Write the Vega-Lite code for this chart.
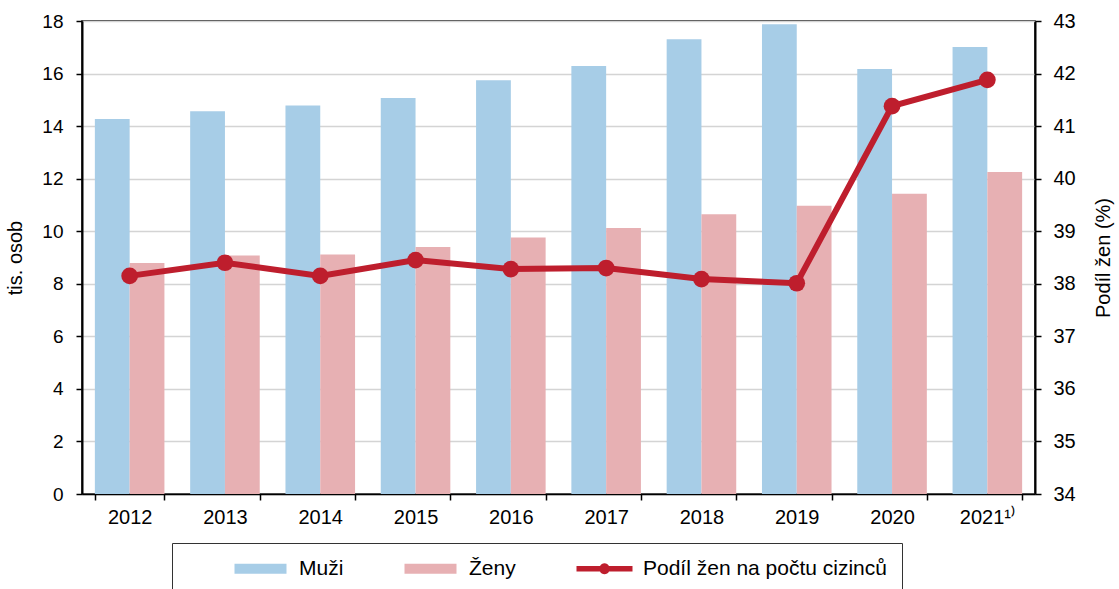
{
  "$schema": "https://vega.github.io/schema/vega-lite/v6.json",
  "width": 953,
  "height": 473,
  "autosize": "none",
  "padding": {"left": 82, "top": 21, "right": 84, "bottom": 95},
  "background": "white",
  "config": {
    "font": "Liberation Sans",
    "view": {"stroke": "black", "strokeWidth": 1.5},
    "axis": {"labelFont": "Liberation Sans", "titleFont": "Liberation Sans", "labelColor": "black", "titleColor": "black", "domainColor": "black", "tickColor": "black", "titleFontWeight": "normal"}
  },
  "datasets": {
    "bars": [
      {"year": "2012", "series": "Muži", "value": 14.27},
      {"year": "2012", "series": "Ženy", "value": 8.79},
      {"year": "2013", "series": "Muži", "value": 14.57},
      {"year": "2013", "series": "Ženy", "value": 9.08},
      {"year": "2014", "series": "Muži", "value": 14.78},
      {"year": "2014", "series": "Ženy", "value": 9.11},
      {"year": "2015", "series": "Muži", "value": 15.07},
      {"year": "2015", "series": "Ženy", "value": 9.4},
      {"year": "2016", "series": "Muži", "value": 15.75},
      {"year": "2016", "series": "Ženy", "value": 9.76},
      {"year": "2017", "series": "Muži", "value": 16.29},
      {"year": "2017", "series": "Ženy", "value": 10.12},
      {"year": "2018", "series": "Muži", "value": 17.31},
      {"year": "2018", "series": "Ženy", "value": 10.65},
      {"year": "2019", "series": "Muži", "value": 17.88},
      {"year": "2019", "series": "Ženy", "value": 10.97},
      {"year": "2020", "series": "Muži", "value": 16.17},
      {"year": "2020", "series": "Ženy", "value": 11.43},
      {"year": "2021", "series": "Muži", "value": 17.01},
      {"year": "2021", "series": "Ženy", "value": 12.25}
    ],
    "share": [
      {"year": "2012", "series": "Podíl žen na počtu cizinců", "share": 38.15},
      {"year": "2013", "series": "Podíl žen na počtu cizinců", "share": 38.4},
      {"year": "2014", "series": "Podíl žen na počtu cizinců", "share": 38.15},
      {"year": "2015", "series": "Podíl žen na počtu cizinců", "share": 38.45},
      {"year": "2016", "series": "Podíl žen na počtu cizinců", "share": 38.28},
      {"year": "2017", "series": "Podíl žen na počtu cizinců", "share": 38.3},
      {"year": "2018", "series": "Podíl žen na počtu cizinců", "share": 38.09},
      {"year": "2019", "series": "Podíl žen na počtu cizinců", "share": 38.01},
      {"year": "2020", "series": "Podíl žen na počtu cizinců", "share": 41.38},
      {"year": "2021", "series": "Podíl žen na počtu cizinců", "share": 41.88}
    ]
  },
  "encoding": {
    "x": {
      "field": "year", "type": "nominal",
      "scale": {"paddingInner": 0.27, "paddingOuter": 0.135},
      "axis": {
        "title": null, "labelAngle": 0, "labelFontSize": 20, "labelPadding": 7,
        "tickBand": "extent", "tickSize": 6, "domainWidth": 1.5, "tickWidth": 1.5,
        "labelExpr": "datum.label == '2021' ? '2021¹⁾' : datum.label"
      }
    }
  },
  "layer": [
    {
      "data": {"name": "bars"},
      "mark": {"type": "bar"},
      "encoding": {
        "xOffset": {"field": "series", "type": "nominal", "sort": ["Muži", "Ženy"], "scale": {"paddingInner": 0, "paddingOuter": 0}},
        "y": {
          "field": "value", "type": "quantitative",
          "scale": {"domain": [0, 18], "nice": false},
          "axis": {
            "title": "tis. osob", "titleFontSize": 20, "titlePadding": 16,
            "values": [0, 2, 4, 6, 8, 10, 12, 14, 16, 18],
            "labelFontSize": 19, "labelPadding": 13, "tickSize": 6,
            "domainWidth": 2, "tickWidth": 1.5,
            "grid": true, "gridColor": "#d4d4d4", "gridWidth": 1.5
          }
        },
        "color": {
          "field": "series", "type": "nominal",
          "scale": {
            "domain": ["Muži", "Ženy", "Podíl žen na počtu cizinců"],
            "range": ["#a7cde7", "#e7b0b3", "#be1e2d"]
          },
          "legend": {
            "orient": "none", "legendX": 90, "legendY": 522,
            "direction": "horizontal",
            "title": " ", "titleOrient": "left", "titlePadding": 47, "titleFontSize": 18,
            "padding": 15,
            "strokeColor": "#333333", "fillColor": "white",
            "labelFontSize": 21, "labelFont": "Liberation Sans", "labelColor": "black",
            "labelLimit": 500,
            "labelOffset": 28, "symbolOffset": 16, "columnPadding": 60,
            "symbolSize": 400,
            "encode": {
              "symbols": {
                "update": {
                  "shape": {"signal": "datum.value == 'Podíl žen na počtu cizinců' ? 'M-2.8,-0.27H-0.45A0.5,0.5 0 0,1 0.45,-0.27H2.8V0.27H0.45A0.5,0.5 0 0,1 -0.45,0.27H-2.8Z' : 'M-2.6,-0.5H2.6V0.5H-2.6Z'"},
                  "fill": {"signal": "scale('color', datum.value)"},
                  "stroke": {"value": "transparent"},
                  "strokeWidth": {"value": 0},
                  "opacity": {"value": 1}
                }
              }
            }
          }
        }
      }
    },
    {
      "data": {"name": "share"},
      "mark": {"type": "line", "color": "#be1e2d", "strokeWidth": 6, "point": {"filled": true, "size": 280, "color": "#be1e2d", "opacity": 1}},
      "encoding": {
        "y": {
          "field": "share", "type": "quantitative",
          "scale": {"domain": [34, 43], "nice": false, "zero": false},
          "axis": {
            "orient": "right", "title": "Podíl žen (%)", "titleFontSize": 20, "titlePadding": 38, "titleAngle": 270,
            "values": [34, 35, 36, 37, 38, 39, 40, 41, 42, 43],
            "labelFontSize": 20, "labelPadding": 12, "tickSize": 6,
            "domainWidth": 2, "tickWidth": 1.5, "grid": false
          }
        },
        "color": {"field": "series", "type": "nominal"}
      }
    }
  ],
  "resolve": {"scale": {"y": "independent"}}
}
